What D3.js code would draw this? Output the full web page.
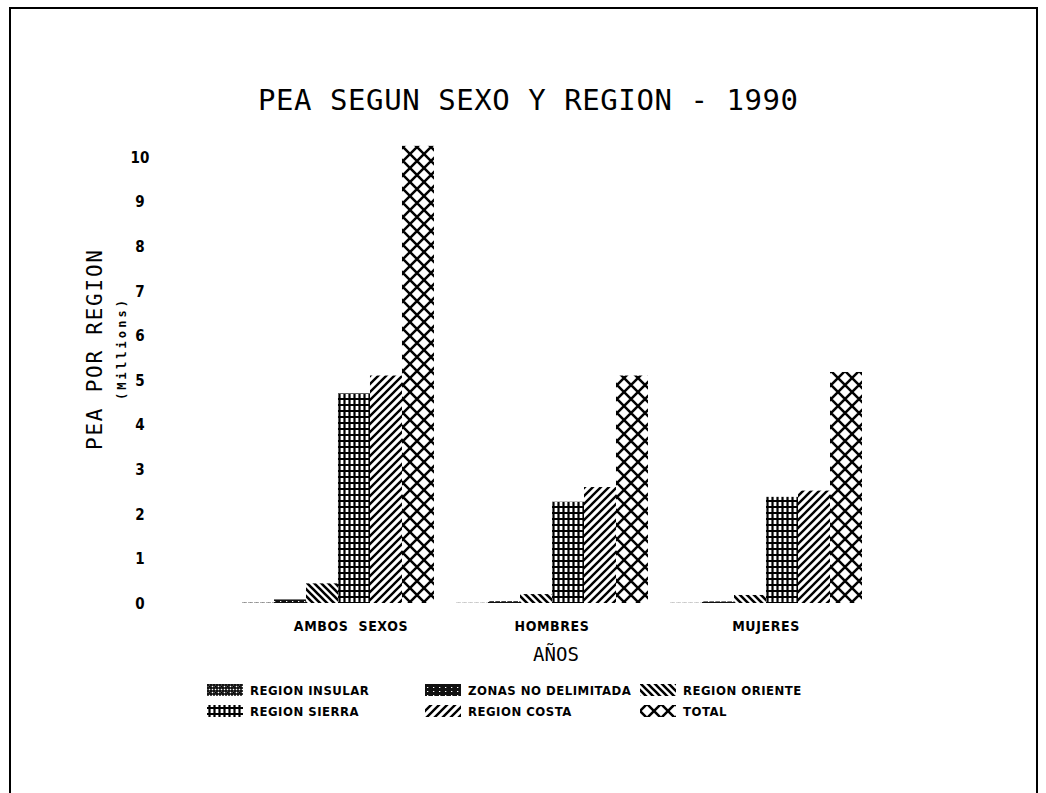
<!DOCTYPE html>
<html>
<head>
<meta charset="utf-8">
<script src="https://cdn.jsdelivr.net/npm/d3@7"></script>
<style>
  body { margin: 0; background: #fff; }
  svg { display: block; }
</style>
</head>
<body>
<svg id="chart" width="1046" height="793"></svg>
<script>
'use strict';

// values (millions)
const categories = ["AMBOS SEXOS", "HOMBRES", "MUJERES"];
const seriesNames = ["REGION INSULAR", "ZONAS NO DELIMITADA", "REGION ORIENTE",
                     "REGION SIERRA", "REGION COSTA", "TOTAL"];
const insular = [0.01, 0.005, 0.005];
const zonas = [0.08, 0.04, 0.035];
const oriente = [0.44, 0.2, 0.18];
const sierra = [4.7, 2.27, 2.38];
const costa = [5.1, 2.6, 2.52];
const total = [10.25, 5.1, 5.18];
const yTicks = [0, 1, 2, 3, 4, 5, 6, 7, 8, 9, 10];

const seriesValues = [insular, zonas, oriente, sierra, costa, total];
const patternIds = ["pInsular", "pZonas", "pOriente", "pSierra", "pCosta", "pTotal"];

const svg = d3.select("#chart");

// frame of the printout
svg.append("rect")
  .attr("x", 10).attr("y", 8)
  .attr("width", 1027).attr("height", 800)
  .attr("fill", "none").attr("stroke", "#000").attr("stroke-width", 2);

// hatch patterns
const defs = svg.append("defs");

function pattern(id, w, h) {
  return defs.append("pattern")
    .attr("id", id)
    .attr("patternUnits", "userSpaceOnUse")
    .attr("width", w).attr("height", h);
}

// insular: dense knotted weave
let p = pattern("pInsular", 6, 6);
p.append("rect").attr("width", 6).attr("height", 6).attr("fill", "#fff");
p.append("path").attr("d", "M0,1H6M0,4H6M1,0V6M4,0V6")
  .attr("stroke", "#000").attr("stroke-width", 1.4);
p.append("rect").attr("x", 2).attr("y", 2).attr("width", 1.5).attr("height", 1.5).attr("fill", "#000");

// zonas: almost solid black
p = pattern("pZonas", 6, 4);
p.append("rect").attr("width", 6).attr("height", 4).attr("fill", "#111");
p.append("rect").attr("x", 2).attr("y", 1).attr("width", 1.3).attr("height", 1).attr("fill", "#fff");

// oriente: backslash hatch
p = pattern("pOriente", 7, 7);
p.append("path").attr("d", "M-2,-2L9,9M-9,-2L2,9M5,-2L16,9")
  .attr("stroke", "#000").attr("stroke-width", 2.6);

// sierra: grid
p = pattern("pSierra", 5, 6);
p.append("path").attr("d", "M0,3H5M2.5,0V6")
  .attr("stroke", "#000").attr("stroke-width", 2.2);

// costa: forward slash hatch
p = pattern("pCosta", 8, 8);
p.append("path").attr("d", "M-2,10L10,-2M-10,10L2,-2M6,10L18,-2")
  .attr("stroke", "#000").attr("stroke-width", 2.4);

// total: diamond cross hatch
p = pattern("pTotal", 14, 14);
p.append("path").attr("d", "M0,0L14,14M14,0L0,14")
  .attr("stroke", "#000").attr("stroke-width", 2.5);

// scales
const y = d3.scaleLinear().domain([0, 10]).range([603, 157]);

const x0 = d3.scaleBand()
  .domain(categories)
  .range([242, 862])
  .paddingInner(0.103)
  .paddingOuter(0);

const x1 = d3.scaleBand()
  .domain(d3.range(seriesNames.length))
  .range([0, x0.bandwidth()]);

// title
svg.append("text")
  .attr("x", 528).attr("y", 110)
  .attr("text-anchor", "middle")
  .attr("font-family", "DejaVu Sans Mono")
  .attr("font-size", 29)
  .attr("textLength", 540)
  .text("PEA SEGUN SEXO Y REGION - 1990");

// y tick labels (no axis line on the original)
const yAxis = d3.axisLeft(y).tickValues(yTicks).tickSize(0).tickPadding(0);
const yg = svg.append("g").attr("transform", "translate(146,0)").call(yAxis);
yg.select(".domain").remove();
yg.selectAll("text")
  .attr("font-family", "DejaVu Sans Condensed")
  .attr("font-weight", "bold")
  .attr("font-size", 15)
  .attr("text-anchor", "middle")
  .attr("x", -6)
  .attr("dy", "0.35em");

// y titles
svg.append("text")
  .attr("transform", "translate(102,350) rotate(-90)")
  .attr("text-anchor", "middle")
  .attr("font-family", "DejaVu Sans Mono")
  .attr("font-size", 21)
  .attr("textLength", 200)
  .text("PEA POR REGION");

svg.append("text")
  .attr("transform", "translate(126,350) rotate(-90)")
  .attr("text-anchor", "middle")
  .attr("font-family", "DejaVu Sans Mono")
  .attr("font-weight", "bold")
  .attr("font-size", 12)
  .attr("textLength", 100)
  .text("(Millions)");

// bars
const groups = svg.append("g").selectAll("g")
  .data(categories)
  .join("g")
  .attr("transform", d => `translate(${x0(d)},0)`);

groups.selectAll("rect")
  .data((d, ci) => seriesValues.map((vals, si) => ({ si: si, v: vals[ci] })))
  .join("rect")
  .attr("x", d => x1(d.si))
  .attr("width", x1.bandwidth())
  .attr("y", d => y(d.v))
  .attr("height", d => y(0) - y(d.v))
  .attr("fill", d => `url(#${patternIds[d.si]})`);

// category labels
const xAxis = d3.axisBottom(x0).tickSize(0).tickPadding(0);
const xg = svg.append("g").attr("transform", "translate(0,621)").call(xAxis);
xg.select(".domain").remove();
xg.selectAll("text")
  .attr("font-family", "DejaVu Sans Condensed")
  .attr("font-weight", "bold")
  .attr("font-size", 14)
  .attr("letter-spacing", 0.6)
  .attr("word-spacing", 5)
  .attr("dx", (d, i) => i === 0 ? 13 : 0)
  .attr("dy", "0.71em");

svg.append("text")
  .attr("x", 556).attr("y", 661)
  .attr("text-anchor", "middle")
  .attr("font-family", "DejaVu Sans Mono")
  .attr("font-size", 19)
  .text("AÑOS");

// legend: 3 columns x 2 rows
const legendCols = [207, 425, 640];
const legendRows = [690, 711];
const legend = svg.append("g").selectAll("g")
  .data(seriesNames)
  .join("g")
  .attr("transform", (d, i) => `translate(${legendCols[i % 3]},${legendRows[Math.floor(i / 3)]})`);

legend.append("rect")
  .attr("x", 0).attr("y", -6)
  .attr("width", 36).attr("height", 12)
  .attr("fill", (d, i) => `url(#${patternIds[i]})`);

legend.append("text")
  .attr("x", 43).attr("y", 0)
  .attr("dy", "0.35em")
  .attr("font-family", "DejaVu Sans Condensed")
  .attr("font-weight", "bold")
  .attr("font-size", 13)
  .attr("letter-spacing", 0.5)
  .text(d => d);
</script>
</body>
</html>
